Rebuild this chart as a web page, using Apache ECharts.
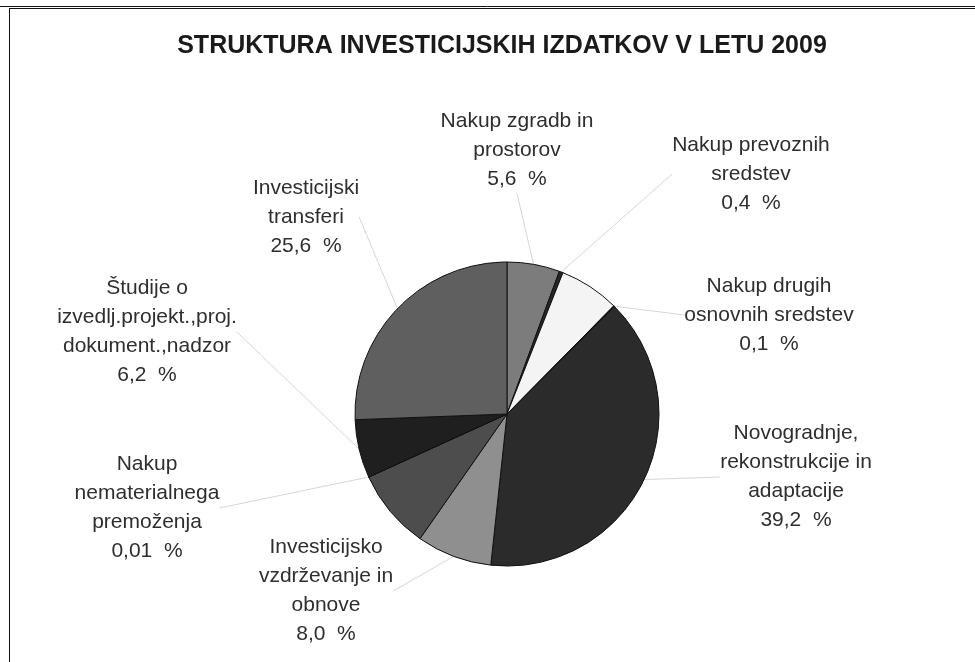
<!DOCTYPE html>
<html>
<head>
<meta charset="utf-8">
<script src="https://cdn.jsdelivr.net/npm/echarts@6/dist/echarts.min.js"></script>
<style>
  html, body { margin: 0; padding: 0; background: #fff; }
  #chart { width: 975px; height: 662px; }
</style>
</head>
<body>
<div id="chart"></div>
<script>
// kategorije (z prelomi vrstic kot na sliki)
const categories = [
  'Nakup zgradb in\nprostorov',
  'Nakup prevoznih\nsredstev',
  'Nakup opreme',
  'Nakup drugih\nosnovnih sredstev',
  'Novogradnje,\nrekonstrukcije in\nadaptacije',
  'Investicijsko\nvzdrževanje in\nobnove',
  'Nakup zemljišč in naravnih bogastev',
  'Nakup\nnematerialnega\npremoženja',
  'Študije o\nizvedlj.projekt.,proj.\ndokument.,nadzor',
  'Investicijski\ntransferi'
];
// delež v %
const shares = [5.6, 0.4, 6.4, 0.1, 39.2, 8.0, 8.49, 0.01, 6.2, 25.6];
// ali je oznaka prikazana na sliki
const labelShown = [true, true, false, true, true, true, false, true, true, true];

const sliceColors = ['#7c7c7c', '#262626', '#f4f4f4', '#1e1e1e', '#2b2b2b',
  '#8f8f8f', '#4d4d4d', '#333333', '#1f1f1f', '#5f5f5f'];
// položaj oznak (središče bloka)
const labelPos = [
  [517, 150], [751, 174], null, [769, 315], [796, 477],
  [326, 591], null, [147, 508], [147, 332], [306, 217]
];

const fmtPct = v => (v < 0.1 ? v.toFixed(2) : v.toFixed(1)).replace('.', ',');

const chart = echarts.init(document.getElementById('chart'));

const option = {
  animation: false,
  backgroundColor: '#fff',
  title: {
    text: 'STRUKTURA INVESTICIJSKIH IZDATKOV V LETU 2009',
    left: 497,
    top: 29,
    textAlign: 'center',
    textStyle: {
      fontFamily: 'Liberation Sans, Arial, sans-serif',
      fontSize: 25,
      fontWeight: 'bold',
      color: '#1a1a1a'
    }
  },
  graphic: [
    { type: 'line', shape: { x1: 0, y1: 6.5, x2: 975, y2: 6.5 }, style: { stroke: '#111', lineWidth: 1 } },
    { type: 'line', shape: { x1: 9, y1: 8.5, x2: 975, y2: 8.5 }, style: { stroke: '#111', lineWidth: 1 } },
    { type: 'line', shape: { x1: 9.5, y1: 8, x2: 9.5, y2: 662 }, style: { stroke: '#111', lineWidth: 1 } }
  ],
  series: [{
    type: 'pie',
    center: [507, 414],
    radius: 152,
    startAngle: 90,
    clockwise: true,
    avoidLabelOverlap: false,
    itemStyle: { borderColor: '#111', borderWidth: 1 },
    emphasis: { disabled: true },
    label: {
      show: true,
      formatter: p => p.name + '\n' + fmtPct(p.value) + '  %',
      fontFamily: 'Liberation Sans, Arial, sans-serif',
      fontSize: 21,
      lineHeight: 29,
      color: '#2e2e2e',
      align: 'center'
    },
    labelLine: {
      show: true,
      length: 0,
      length2: 0,
      lineStyle: { color: '#d6d6d6', width: 1 }
    },
    labelLayout: params => {
      const pos = labelPos[params.dataIndex];
      if (!pos) return {};
      return { x: pos[0], y: pos[1], align: 'center', verticalAlign: 'middle' };
    },
    data: categories.map((name, i) => ({
      name: name,
      value: shares[i],
      itemStyle: { color: sliceColors[i] },
      label: { show: labelShown[i] },
      labelLine: { show: labelShown[i] }
    }))
  }]
};

chart.setOption(option);
</script>
</body>
</html>
